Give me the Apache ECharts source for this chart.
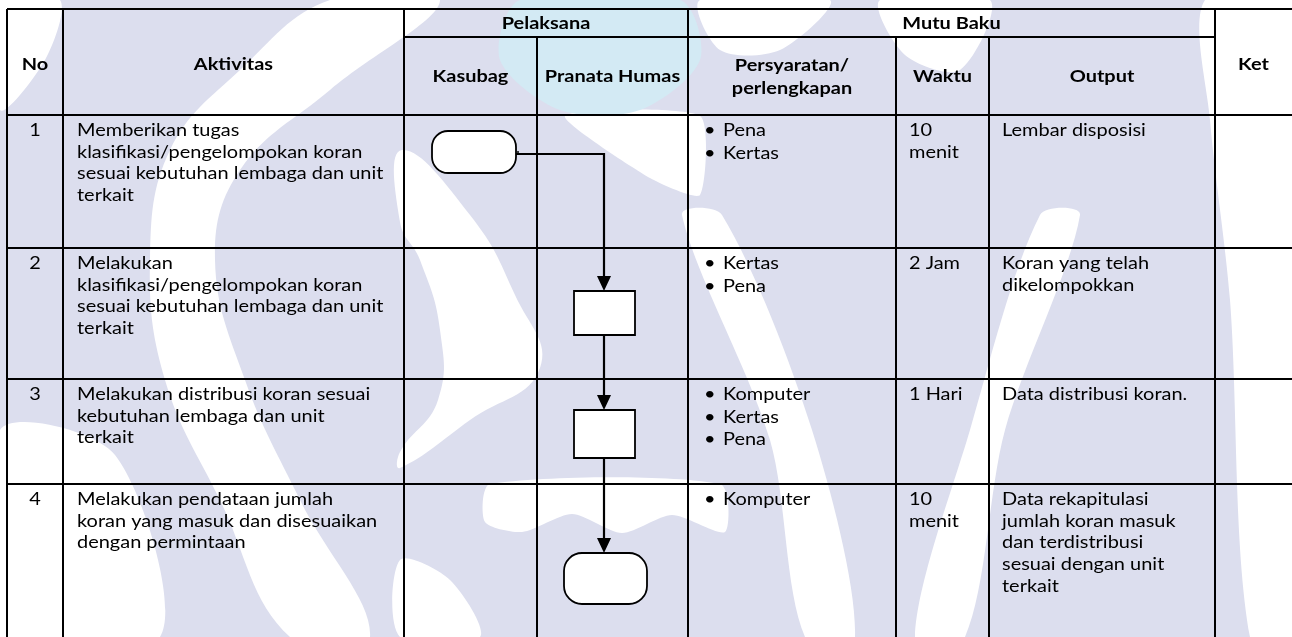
<!DOCTYPE html>
<html><head><meta charset="utf-8">
<script src="https://cdn.jsdelivr.net/npm/echarts@6/dist/echarts.min.js"></script>
<style>html,body{margin:0;padding:0;background:#fff}#c{width:1292px;height:637px}</style>
</head><body><div id="c"></div>
<script>
// ---------- DATA ----------
const colEdges = [7, 63, 404, 537, 688, 896, 989, 1215, 1292];
const rowEdges = [9, 115, 248, 379, 484, 637];
const subHeaderY = 37;
const groupHeaders = [
  { text: 'Pelaksana', from: 2, to: 4 },
  { text: 'Mutu Baku', from: 4, to: 7 }
];
const mainHeaders = [
  { text: 'No', col: 0 }, { text: 'Aktivitas', col: 1 }, { text: 'Ket', col: 7 }
];
const subHeaders = [
  { text: 'Kasubag', col: 2 }, { text: 'Pranata Humas', col: 3 },
  { text: 'Persyaratan/\nperlengkapan', col: 4 }, { text: 'Waktu', col: 5 }, { text: 'Output', col: 6 }
];
const numbers = ['1', '2', '3', '4'];
const activities = [
  'Memberikan tugas\nklasifikasi/pengelompokan koran\nsesuai kebutuhan lembaga dan unit\nterkait',
  'Melakukan\nklasifikasi/pengelompokan koran\nsesuai kebutuhan lembaga dan unit\nterkait',
  'Melakukan distribusi koran sesuai\nkebutuhan lembaga dan unit\nterkait',
  'Melakukan pendataan jumlah\nkoran yang masuk dan disesuaikan\ndengan permintaan'
];
const requirements = [
  ['Pena', 'Kertas'],
  ['Kertas', 'Pena'],
  ['Komputer', 'Kertas', 'Pena'],
  ['Komputer']
];
const durations = ['10\nmenit', '2 Jam', '1 Hari', '10\nmenit'];
const outputs = [
  'Lembar disposisi',
  'Koran yang telah\ndikelompokkan',
  'Data distribusi koran.',
  'Data rekapitulasi\njumlah koran masuk\ndan terdistribusi\nsesuai dengan unit\nterkait'
];
const flowSteps = [
  { row: 0, lane: 2, shape: 'terminator' },
  { row: 1, lane: 3, shape: 'process' },
  { row: 2, lane: 3, shape: 'process' },
  { row: 3, lane: 3, shape: 'terminator' }
];

// ---------- LAYOUT / STYLE ----------
const W = 1292, H = 637;
const FONT = 'Lato, "Noto Sans", sans-serif';
const BODY_SIZE = 17.5, HEAD_SIZE = 17.5, SCALE_X = 1.14;
const LINE_H = 21.6, BULLET_H = 22.5, FIRST_OFF = 15.5;
const PAD = { 1: 14, 4: 16, 5: 13, 6: 13 };
const nodeGeom = [
  { cx: 474, y0: 131, y1: 173, w: 84, r: 16 },
  { cx: 604.5, y0: 291, y1: 335, w: 61, r: 0 },
  { cx: 604.5, y0: 410, y1: 458, w: 61, r: 0 },
  { cx: 605.5, y0: 553, y1: 604, w: 83, r: 18 }
];
const connectorX = 604;
const LAV = '#dcdeee', CYAN = '#d3eaf4', WH = '#ffffff';
const watermark = [
  { c: WH, s: 0.3, p: [[0,0],[60,0],[45,60],[0,110]] },
  { c: WH, s: 0.4, p: [[330,0],[440,0],[330,90],[240,170],[215,260],[245,380],[300,500],[370,637],[290,637],[220,500],[165,380],[150,260],[170,150],[240,70]] },
  { c: WH, s: 0.45, p: [[402,150],[470,215],[515,295],[540,368],[470,420],[400,468],[400,452],[438,400],[440,330],[420,260],[400,222]] },
  { c: WH, s: 0.3, p: [[400,560],[450,580],[480,637],[400,637]] },
  { c: WH, s: 0.3, p: [[0,430],[115,455],[160,637],[0,637]] },
  { c: WH, s: 0.2, p: [[565,116],[700,116],[700,195],[650,178]] },
  { c: WH, s: 0.3, p: [[682,215],[722,215],[812,430],[855,637],[805,637],[770,440]] },
  { c: WH, s: 0.3, p: [[1040,215],[1080,215],[1005,430],[965,637],[915,637],[970,430]] },
  { c: WH, s: 0.3, p: [[1205,0],[1292,0],[1292,637],[1250,637],[1230,300],[1210,120]] },
  { c: WH, s: 0.3, p: [[700,0],[830,0],[780,50],[720,50]] },
  { c: WH, s: 0.3, p: [[880,0],[990,0],[960,70],[905,55]] },
  { c: WH, s: 0.25, p: [[490,484],[720,484],[725,532],[672,515],[622,533],[572,514],[522,532],[485,522]] },
  { c: CYAN, s: 0.3, p: [[520,0],[680,0],[700,60],[640,110],[560,110],[500,60]] }
];

// ---------- BUILD ITEMS ----------
const lines = [];
lines.push([colEdges[0], rowEdges[0], W, rowEdges[0]]);
lines.push([colEdges[2], subHeaderY, colEdges[7], subHeaderY]);
for (let i = 1; i < rowEdges.length - 1; i++) lines.push([colEdges[0], rowEdges[i], W, rowEdges[i]]);
colEdges.slice(0, 8).forEach((x, i) => {
  const top = (i === 3 || i === 5 || i === 6) ? subHeaderY : rowEdges[0];
  lines.push([x, top, x, H]);
});

const texts = [];
const mid = (a, b) => (a + b) / 2;
const headMidY = mid(rowEdges[0], rowEdges[1]) + 2;
const subMidY = mid(subHeaderY, rowEdges[1]) + 0.5;
groupHeaders.forEach(g => texts.push({ x: mid(colEdges[g.from], colEdges[g.to]), y: mid(rowEdges[0], subHeaderY) + 0.5, t: g.text, b: true, a: 'center' }));
mainHeaders.forEach(h => texts.push({ x: mid(colEdges[h.col], colEdges[h.col + 1]), y: headMidY, t: h.text, b: true, a: 'center' }));
subHeaders.forEach(h => {
  const ls = h.text.split('\n');
  ls.forEach((l, k) => texts.push({ x: mid(colEdges[h.col], colEdges[h.col + 1]), y: subMidY + (k - (ls.length - 1) / 2) * 23, t: l, b: true, a: 'center' }));
});
function block(col, r, str, step) {
  str.split('\n').forEach((l, k) => texts.push({ x: colEdges[col] + PAD[col], y: rowEdges[r + 1] + FIRST_OFF + k * step, t: l, a: 'left' }));
}
numbers.forEach((n, r) => texts.push({ x: mid(colEdges[0], colEdges[1]), y: rowEdges[r + 1] + FIRST_OFF, t: n, a: 'center' }));
activities.forEach((s, r) => block(1, r, s, LINE_H));
durations.forEach((s, r) => block(5, r, s, LINE_H));
outputs.forEach((s, r) => block(6, r, s, LINE_H));
requirements.forEach((list, r) => list.forEach((it, k) => {
  const y = rowEdges[r + 1] + FIRST_OFF + k * BULLET_H;
  texts.push({ x: colEdges[4] + PAD[4], y: y, t: '\u2022', a: 'left' });
  texts.push({ x: colEdges[4] + PAD[4] + 19, y: y, t: it, a: 'left' });
}));

// ---------- CHART ----------
const chart = echarts.init(document.getElementById('c'), null, { renderer: 'canvas' });
const axisCommon = { show: false, type: 'value' };
function custom(data, fn, z) {
  return { type: 'custom', coordinateSystem: 'cartesian2d', data: data, z: z, silent: true,
    renderItem: (params, api) => fn(data[params.dataIndex], api), animation: false, clip: false,
    encode: { x: 0, y: 1 } };
}
const wmData = watermark.map((w, i) => [0, 0, i]);
const lineData = lines.map((l, i) => [l[0], l[1], i]);
const textData = texts.map((t, i) => [t.x, t.y, i]);
const flowData = flowSteps.map((f, i) => [nodeGeom[i].cx, nodeGeom[i].y0, i]);

chart.setOption({
  animation: false,
  backgroundColor: LAV,
  grid: { left: 0, right: 0, top: 0, bottom: 0 },
  xAxis: Object.assign({ min: 0, max: W }, axisCommon),
  yAxis: Object.assign({ min: 0, max: H, inverse: true }, axisCommon),
  series: [
    custom(wmData, (d, api) => {
      const w = watermark[d[2]];
      return { type: 'polygon', shape: { points: w.p.map(p => api.coord(p)), smooth: w.s }, style: { fill: w.c } };
    }, 1),
    custom(lineData, (d, api) => {
      const l = lines[d[2]];
      const a = api.coord([l[0], l[1]]), b = api.coord([l[2], l[3]]);
      return { type: 'line', shape: { x1: a[0], y1: a[1], x2: b[0], y2: b[1] }, style: { stroke: '#000', lineWidth: 2 } };
    }, 2),
    custom(flowData, (d, api) => {
      const i = d[2], g = nodeGeom[i], f = flowSteps[i];
      const tl = api.coord([g.cx - g.w / 2, g.y0]), br = api.coord([g.cx + g.w / 2, g.y1]);
      const children = [{ type: 'rect', shape: { x: tl[0], y: tl[1], width: br[0] - tl[0], height: br[1] - tl[1], r: f.shape === 'terminator' ? g.r : 0 },
        style: { fill: '#fff', stroke: '#000', lineWidth: 1.8 }, z2: 5 }];
      if (i > 0) {
        const prev = nodeGeom[i - 1];
        const pts = [];
        if (flowSteps[i - 1].lane !== f.lane) {
          const yc = (prev.y0 + prev.y1) / 2 + 2;
          pts.push(api.coord([prev.cx + prev.w / 2, yc]), api.coord([connectorX, yc]));
          children.push({ type: 'line', shape: { x1: pts[0][0] + 2, y1: pts[0][1] - 3, x2: pts[0][0] + 2, y2: pts[0][1] }, style: { stroke: '#000', lineWidth: 1.5 } });
        } else {
          pts.push(api.coord([connectorX, prev.y1]));
        }
        const tip = api.coord([connectorX, g.y0]);
        pts.push([tip[0], tip[1] - 14]);
        children.push({ type: 'polyline', shape: { points: pts }, style: { stroke: '#000', lineWidth: 2.2, fill: null } });
        children.push({ type: 'polygon', shape: { points: [[tip[0] - 7, tip[1] - 15], [tip[0] + 7, tip[1] - 15], [tip[0], tip[1]]] }, style: { fill: '#000' } });
      }
      return { type: 'group', children: children };
    }, 3),
    custom(textData, (d, api) => {
      const t = texts[d[2]];
      const p = api.coord([t.x, t.y]);
      return { type: 'text', x: p[0], y: p[1], scaleX: SCALE_X, style: { text: t.t, fill: '#000', align: t.a, verticalAlign: 'middle',
        font: (t.b ? 'bold ' : '') + (t.b ? HEAD_SIZE : BODY_SIZE) + 'px ' + FONT } };
    }, 4)
  ]
});
</script></body></html>
